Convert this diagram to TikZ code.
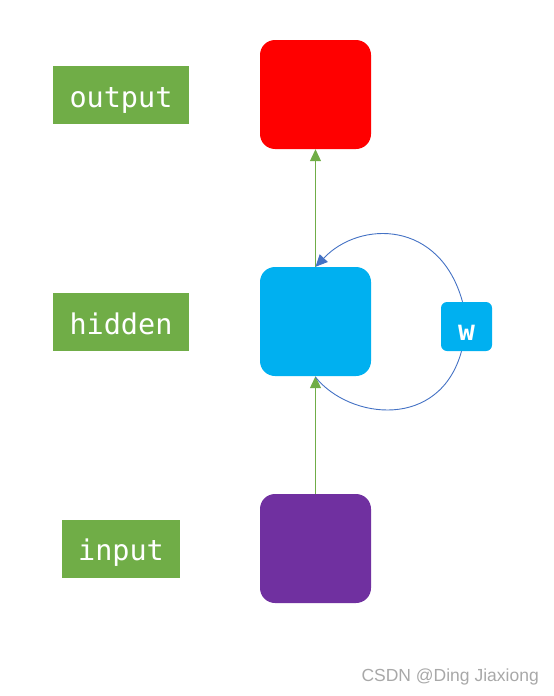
\documentclass[tikz,border=0pt]{standalone}
\usepackage{fontspec}
\newfontfamily\labelfont{DejaVu Sans Mono}
\newfontfamily\markfont{Liberation Sans}
\usetikzlibrary{arrows.meta}
\definecolor{cred}{HTML}{FF0000}
\definecolor{cblue}{HTML}{00B0F0}
\definecolor{cpurple}{HTML}{7030A0}
\definecolor{cgreen}{HTML}{70AD47}
\definecolor{cline}{HTML}{4472C4}
\definecolor{cmark}{HTML}{A8A8A8}
\newcommand{\lowtext}[2]{\raisebox{-#1}[0pt][0pt]{#2}}
\tikzset{
  bigbox/.style={rounded corners=15pt, minimum width=111pt, minimum height=109pt, inner sep=0pt},
  lbl/.style={fill=cgreen, text=white, font=\labelfont\fontsize{28.5}{30}\selectfont, inner sep=0pt, minimum height=58pt},
  wbox/.style={fill=cblue, rounded corners=6pt, minimum width=51pt, minimum height=49pt, inner sep=0pt, text=white, font=\labelfont\bfseries\fontsize{28}{30}\selectfont},
  tip/.style={-{Triangle[width=11pt,length=12pt]}},
  garrow/.style={draw=cgreen, line width=1pt, tip},
  barrow/.style={draw=cline, line width=0.9pt},
}
\begin{document}
\begin{tikzpicture}[x=1pt,y=-1pt]
\useasboundingbox (0,0) rectangle (554,696);
\node[bigbox, fill=cred] (out) at (315.5,94.5) {};
\node[bigbox, fill=cblue] (hid) at (315.5,321.5) {};
\node[bigbox, fill=cpurple] (inp) at (315.5,548.5) {};
\node[wbox] (w) at (466.5,326.5) {\lowtext{13.5pt}{w}};
\node[lbl, minimum width=136pt] (lout) at (121,95) {\lowtext{12pt}{output}};
\node[lbl, minimum width=136pt] (lhid) at (121,322) {\lowtext{12pt}{hidden}};
\node[lbl, minimum width=118pt] (linp) at (121,548.5) {\lowtext{12pt}{input}};
\draw[garrow] (hid.north) -- (out.south);
\draw[garrow] (inp.north) -- (hid.south);
\draw[barrow, tip] ([xshift=-4pt]w.north) .. controls (440,220) and (360,220) .. (hid.north);
\draw[barrow] ([xshift=-5pt]w.south) .. controls (440,430) and (350,420) .. ([yshift=-1pt]hid.south);
\node[text=cmark, font=\markfont\fontsize{17.5}{19}\selectfont, anchor=east, inner sep=0pt] (mark) at (539,677) {CSDN @Ding Jiaxiong};
\end{tikzpicture}
\end{document}
